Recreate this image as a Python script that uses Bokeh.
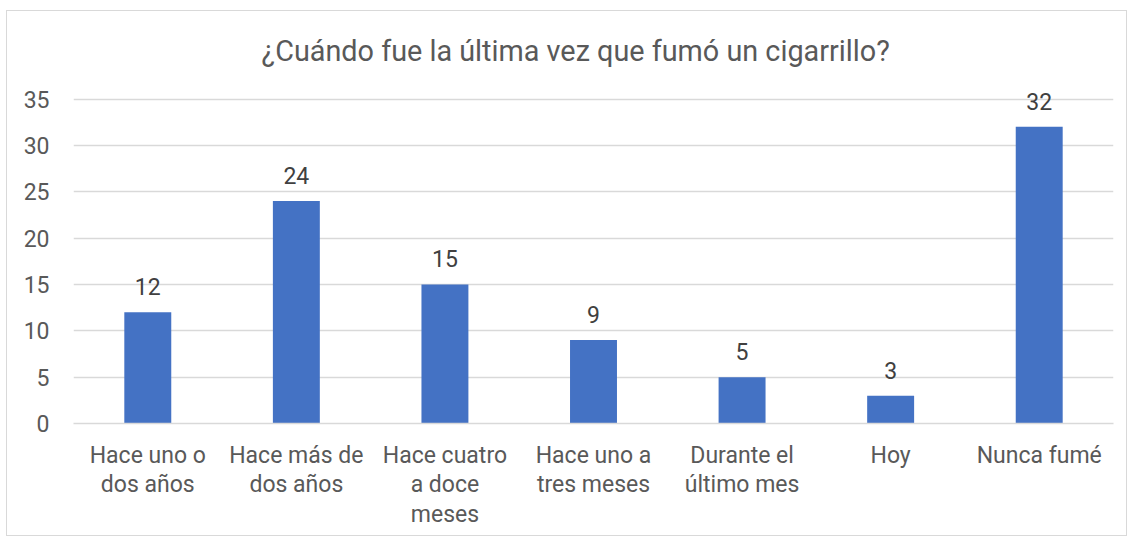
from bokeh.plotting import figure
from bokeh.models import ColumnDataSource, Range1d, FactorRange, LabelSet, Title
from bokeh.core.properties import value
from bokeh.embed import file_html
from bokeh.resources import INLINE

categories = ["Hace uno o\ndos años", "Hace más de\ndos años", "Hace cuatro\na doce\nmeses",
              "Hace uno a\ntres meses", "Durante el\núltimo mes", "Hoy", "Nunca fumé"]
values = [12, 24, 15, 9, 5, 3, 32]
y_ticks = [0, 5, 10, 15, 20, 25, 30, 35]
title_text = "¿Cuándo fue la última vez que fumó un cigarrillo?"

FONT = "Roboto"
TXT = "#595959"

src = ColumnDataSource(dict(cat=categories, val=values, lab=[str(v) for v in values]))

p = figure(x_range=FactorRange(factors=categories, range_padding=0),
           y_range=Range1d(0, 37),
           width=1121, height=526, output_backend="svg", toolbar_location=None,
           min_border_left=66, min_border_right=15, min_border_top=69, min_border_bottom=114,
           background_fill_color="white", border_fill_color="white",
           styles={"border": "1px solid #D9D9D9", "margin-left": "6px", "margin-top": "10px"})
p.outline_line_color = None

t = Title(text=title_text, align="left", text_font=FONT, text_font_size="28.8px",
          text_font_style="normal", text_color=TXT, offset=188, standoff=26)
p.add_layout(t, "above")

p.vbar(x="cat", top="val", width=0.316, source=src, fill_color="#4472C4", line_color=None)

labels = LabelSet(x="cat", y="val", text="lab", source=src, text_align="center",
                  text_baseline="alphabetic", y_offset=17, text_font=value(FONT),
                  text_font_size="23px", text_color="#404040")
p.add_layout(labels)

p.xgrid.grid_line_color = None
p.ygrid.grid_line_color = "#D9D9D9"
p.ygrid.grid_line_width = 1.5
p.yaxis.ticker = y_ticks
p.yaxis.axis_line_color = None
p.yaxis.major_tick_line_color = None
p.yaxis.minor_tick_line_color = None
p.yaxis.major_label_standoff = 18
p.yaxis.major_label_text_font = FONT
p.yaxis.major_label_text_font_size = "23px"
p.yaxis.major_label_text_color = TXT

p.xaxis.axis_line_color = "#D9D9D9"
p.xaxis.axis_line_width = 1.5
p.xaxis.major_tick_line_color = None
p.xaxis.minor_tick_line_color = None
p.xaxis.major_label_standoff = 12
p.xaxis.major_label_text_font = FONT
p.xaxis.major_label_text_font_size = "23px"
p.xaxis.major_label_text_line_height = 1.1
p.xaxis.major_label_text_color = TXT
p.xaxis.major_label_orientation = "horizontal"

open("out.html", "w").write(file_html(p, INLINE))
